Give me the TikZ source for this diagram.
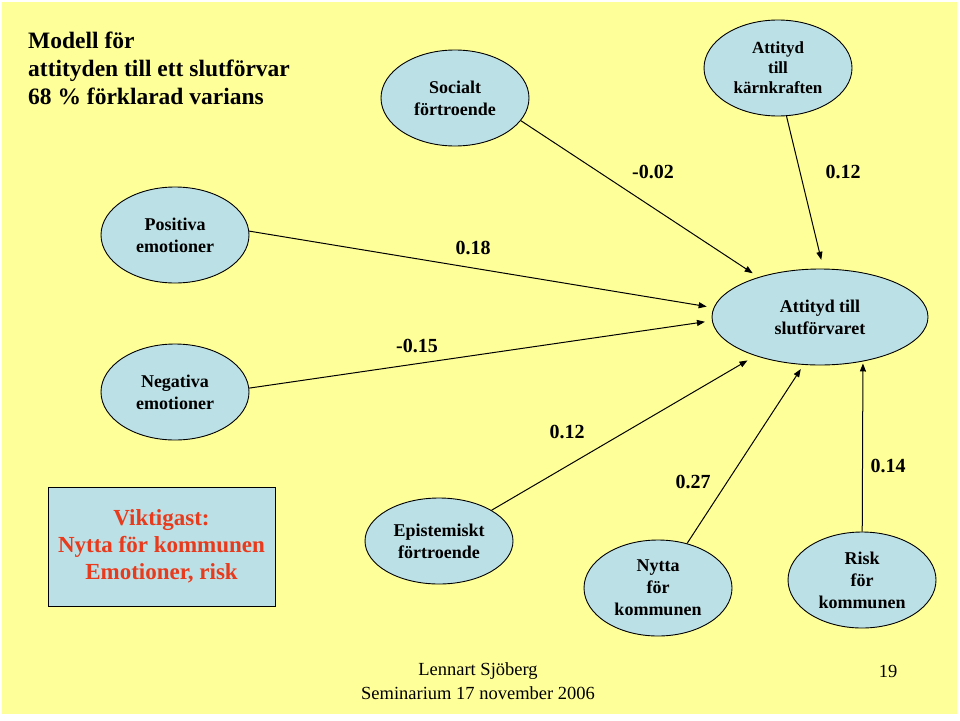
\documentclass[tikz,border=0pt]{standalone}
\usepackage{fontspec}
\setmainfont{Liberation Serif}
\usetikzlibrary{shapes.geometric,arrows.meta,positioning}
\definecolor{slideyellow}{RGB}{255,255,153}
\definecolor{latentblue}{RGB}{187,224,230}
\definecolor{alertred}{RGB}{232,58,28}
\begin{document}
\begin{tikzpicture}[x=1pt,y=-1pt,
    latent/.style={ellipse, draw, fill=latentblue, line width=0.9pt, minimum width=148pt,
        minimum height=96pt, inner sep=0pt, align=center, font=\fontsize{18}{22}\selectfont\bfseries},
    effect/.style={-{Triangle[length=8pt,width=6pt]}, line width=1pt, shorten >=7pt},
    coef/.style={font=\fontsize{20}{24}\selectfont\bfseries}]
    % slide
    \fill[white] (0,0) rectangle (960,720);
    \fill[slideyellow] (2,2) rectangle (957,714);
    \node[anchor=north west, align=left, inner sep=0pt, font=\fontsize{23.5}{28}\selectfont\bfseries] (title) at (28,32)
        {Modell för\\attityden till ett slutförvar\\68 \% förklarad varians};
    % factors
    \node[latent] (soc) at (455,98) {Socialt\\förtroende};
    \node[latent, font=\fontsize{17}{20}\selectfont\bfseries] (karn) at (778,68) {Attityd\\till\\kärnkraften};
    \node[latent] (pos) at (175,235) {Positiva\\emotioner};
    \node[latent] (neg) at (175,392) {Negativa\\emotioner};
    \node[latent, minimum width=216pt] (slut) at (820,317) {Attityd till\\slutförvaret};
    \node[latent, minimum height=86pt] (epi) at (439,541) {Epistemiskt\\förtroende};
    \node[latent] (nytta) at (658,588) {Nytta\\för\\kommunen};
    \node[latent] (risk) at (862,580) {Risk\\för\\kommunen};
    \node[draw, fill=latentblue, line width=0.9pt, minimum width=227pt, minimum height=119pt, align=center,
        text=alertred, font=\fontsize{23}{27}\selectfont\bfseries] (viktig) at (161.5,546.5)
        {Viktigast:\\Nytta för kommunen\\Emotioner, risk};
    % paths
    \draw[effect] (soc.-19) -- (slut.147);
    \draw[effect, shorten >=9pt] (karn.-80) -- (slut.86);
    \draw[effect] (pos.3) -- (slut.175);
    \draw[effect] (neg.3) -- (slut.182);
    \draw[effect, shorten >=9pt] (epi) -- (slut.211);
    \draw[effect, shorten >=5pt] (nytta) -- (slut.251);
    \draw[effect, shorten >=2pt] (risk) -- (slut.-46);
    % coefficients
    \node[coef] (c1) at (653,172) {-0.02};
    \node[coef] (c2) at (843,172) {0.12};
    \node[coef] (c3) at (473,248) {0.18};
    \node[coef] (c4) at (417,346) {-0.15};
    \node[coef] (c5) at (567,432) {0.12};
    \node[coef] (c6) at (693,482) {0.27};
    \node[coef] (c7) at (888,466) {0.14};
    % footer
    \node[font=\fontsize{18.5}{22}\selectfont] (author) at (478,671) {Lennart Sjöberg};
    \node[font=\fontsize{18.5}{22}\selectfont] (event) at (478,693) {Seminarium 17 november 2006};
    \node[font=\fontsize{18.5}{22}\selectfont] (page) at (888,671) {19};
\end{tikzpicture}
\end{document}
